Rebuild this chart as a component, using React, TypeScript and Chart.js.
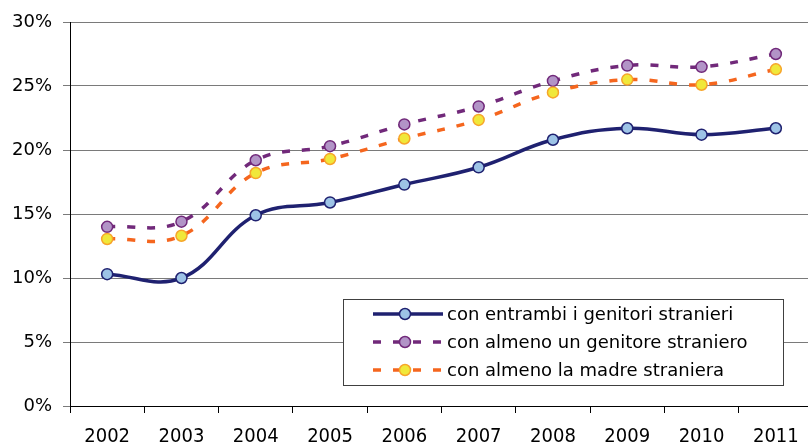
import React, { useEffect, useRef } from 'react';
import { Chart, registerables } from 'chart.js';

Chart.register(...registerables);

const years = ['2002', '2003', '2004', '2005', '2006', '2007', '2008', '2009', '2010', '2011'];
const entrambi = [10.3, 10.0, 14.9, 15.9, 17.3, 18.65, 20.8, 21.7, 21.2, 21.7];
const almenoUno = [14.0, 14.4, 19.2, 20.3, 22.0, 23.4, 25.4, 26.6, 26.5, 27.5];
const madre = [13.05, 13.3, 18.2, 19.3, 20.9, 22.35, 24.5, 25.5, 25.1, 26.3];
const seriesLabels = [
  'con entrambi i genitori stranieri',
  'con almeno un genitore straniero',
  'con almeno la madre straniera',
];
const yMin = 0;
const yMax = 30;
const yStep = 5;

const FONT = '"DejaVu Sans", Verdana, sans-serif';
const FONT_COND = '"DejaVu Sans Condensed", "DejaVu Sans", Verdana, sans-serif';

const insideLegend = {
  id: 'insideLegend',
  afterDraw(chart: any) {
    const { ctx, chartArea } = chart;
    const boxL = chartArea.left + 273;
    const boxT = chartArea.top + 277;
    const boxW = 440;
    const boxH = 86;
    ctx.save();
    ctx.fillStyle = '#ffffff';
    ctx.fillRect(boxL, boxT, boxW, boxH);
    ctx.strokeStyle = '#404040';
    ctx.lineWidth = 1;
    ctx.strokeRect(boxL + 0.5, boxT + 0.5, boxW, boxH);
    chart.data.datasets.forEach((ds: any, i: number) => {
      const y = boxT + 15 + i * 28;
      const x0 = boxL + 30;
      const x1 = boxL + 100;
      ctx.save();
      ctx.strokeStyle = ds.borderColor;
      ctx.lineWidth = ds.borderWidth;
      ctx.setLineDash(ds.borderDash || []);
      ctx.beginPath();
      ctx.moveTo(x0, y);
      ctx.lineTo(x1, y);
      ctx.stroke();
      ctx.restore();
      ctx.beginPath();
      ctx.arc(boxL + 62, y, ds.pointRadius, 0, Math.PI * 2);
      ctx.fillStyle = ds.pointBackgroundColor;
      ctx.fill();
      ctx.lineWidth = ds.pointBorderWidth;
      ctx.strokeStyle = ds.pointBorderColor;
      ctx.stroke();
      ctx.fillStyle = '#000';
      ctx.font = `18px ${FONT}`;
      ctx.textBaseline = 'middle';
      ctx.textAlign = 'left';
      ctx.fillText(ds.label, boxL + 104, y + 1);
    });
    ctx.restore();
  },
};

export default function App() {
  const ref = useRef<HTMLCanvasElement | null>(null);
  useEffect(() => {
    if (!ref.current) return;
    const chart = new Chart(ref.current, {
      type: 'line',
      data: {
        labels: years,
        datasets: [
          {
            label: seriesLabels[0],
            data: entrambi,
            borderColor: '#1F2170',
            borderWidth: 3.5,
            tension: 0.4,
            pointRadius: 5.5,
            pointBackgroundColor: '#9DC3E6',
            pointBorderColor: '#1F2170',
            pointBorderWidth: 1.5,
            order: 2,
          },
          {
            label: seriesLabels[1],
            data: almenoUno,
            borderColor: '#71297A',
            borderWidth: 3.5,
            borderDash: [8, 12],
            tension: 0.4,
            pointRadius: 5.5,
            pointBackgroundColor: '#B294C7',
            pointBorderColor: '#71297A',
            pointBorderWidth: 1.5,
            order: 1,
          },
          {
            label: seriesLabels[2],
            data: madre,
            borderColor: '#F5661E',
            borderWidth: 3.5,
            borderDash: [8, 12],
            tension: 0.4,
            pointRadius: 5.5,
            pointBackgroundColor: '#F0E83A',
            pointBorderColor: '#F7A52A',
            pointBorderWidth: 1.5,
            order: 0,
          },
        ],
      },
      options: {
        responsive: false,
        animation: false,
        layout: { padding: { top: 22, right: 6, left: 0, bottom: 0 } },
        plugins: {
          legend: { display: false },
          tooltip: { enabled: false },
        },
        scales: {
          x: {
            offset: true,
            grid: {
              offset: true,
              drawOnChartArea: false,
              drawTicks: true,
              tickLength: 7,
              color: '#000',
            },
            border: { color: '#000', width: 1 },
            ticks: {
              color: '#000',
              font: { family: FONT_COND, size: 20 },
              padding: 12,
              maxRotation: 0,
              autoSkip: false,
            },
            afterFit(scale: any) {
              scale.height = 39;
            },
          },
          y: {
            min: yMin,
            max: yMax,
            grid: {
              color: '#7a7a7a',
              lineWidth: 1,
              tickLength: 7,
            },
            border: { color: '#000', width: 1 },
            ticks: {
              stepSize: yStep,
              color: '#000',
              font: { family: FONT, size: 18 },
              padding: 11,
              callback: (v: any) => `${v}%`,
            },
            afterFit(scale: any) {
              scale.width = 70;
            },
          },
        },
      },
      plugins: [insideLegend],
    });
    return () => chart.destroy();
  }, []);
  return (
    <div style={{ position: 'fixed', left: 0, top: 0, width: 808, height: 445, overflow: 'hidden', background: '#fff' }}>
      <canvas ref={ref} width={820} height={445} style={{ display: 'block' }} />
    </div>
  );
}
